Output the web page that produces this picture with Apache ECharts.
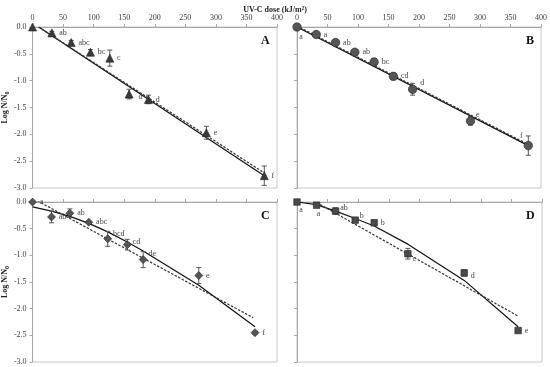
<!DOCTYPE html>
<html><head><meta charset="utf-8">
<script src="https://cdn.jsdelivr.net/npm/echarts@6/dist/echarts.min.js"></script>
<style>html,body{margin:0;padding:0;background:#fff}#c{width:550px;height:367px}</style>
</head><body><div id="c"></div>
<script>
// ---------- data ----------
const xTickValues = [0, 50, 100, 150, 200, 250, 300, 350, 400];
const yTickValues = [0, -0.5, -1, -1.5, -2, -2.5, -3];

const doseA = [0, 31.6, 63.2, 94.8, 126.4, 158, 189.6, 284.4, 379.2];
const logA  = [0, -0.11, -0.29, -0.47, -0.58, -1.25, -1.35, -1.97, -2.77];
const errA  = [0, 0.03, 0.04, 0.05, 0.15, 0.09, 0.08, 0.12, 0.18];
const letA  = ['', 'ab', 'abc', 'bc', 'c', 'd', 'd', 'e', 'f'];
const solidAx = [10, 379.2], solidAy = [0, -2.77];
const dashAx  = [10, 379.2], dashAy  = [0, -2.72];

const doseB = [0, 31.6, 63.2, 94.8, 126.4, 158, 189.6, 284.4, 379.2];
const logB  = [0, -0.14, -0.29, -0.47, -0.65, -0.92, -1.16, -1.75, -2.21];
const errB  = [0, 0.03, 0.03, 0.03, 0.06, 0.06, 0.11, 0.08, 0.18];
const letB  = ['a', 'a', 'ab', 'ab', 'bc', 'cd', 'd', 'e', 'f'];
const solidBx = [0, 379.2], solidBy = [0, -2.21];
const dashBx  = [5, 379.2], dashBy  = [-0.01, -2.19];

const doseC = [0, 31, 61, 92, 123, 155, 181, 272, 364];
const logC  = [0, -0.28, -0.21, -0.38, -0.69, -0.80, -1.08, -1.38, -2.45];
const errC  = [0, 0.11, 0.08, 0.02, 0.14, 0.10, 0.15, 0.15, 0.02];
const letC  = ['a', 'ab', 'ab', 'abc', 'bcd', 'cd', 'de', 'e', 'f'];
const solidCx = [0, 31, 61, 92, 123, 155, 181, 272, 364];
const solidCy = [-0.09, -0.17, -0.27, -0.40, -0.56, -0.75, -0.92, -1.56, -2.34];
const dashCx  = [8, 361], dashCy = [0.02, -2.17];

const doseD = [0, 32, 63, 95, 126, 181, 273, 361];
const logD  = [0, -0.06, -0.17, -0.34, -0.39, -0.97, -1.33, -2.41];
const errD  = [0, 0.02, 0.06, 0.03, 0.05, 0.10, 0.06, 0.03];
const letD  = ['a', 'a', 'ab', 'b', 'b', 'c', 'd', 'e'];
const solidDx = [0, 32, 63, 95, 126, 181, 273, 361];
const solidDy = [0, -0.05, -0.17, -0.31, -0.45, -0.79, -1.47, -2.34];
const dashDx  = [32, 361], dashDy = [-0.01, -2.14];

const panelNames = ['A', 'B', 'C', 'D'];
// ---------- build ----------
const FONT = '"Liberation Serif", "DejaVu Serif", serif';
const zip = (a, b) => a.map((v, i) => [v, b[i]]);

const panels = [
  {dose: doseA, log: logA, err: errA, let: letA, sx: solidAx, sy: solidAy, dx: dashAx, dy: dashAy,
   symbol: 'triangle', size: 8, color: '#3a3a3a', rect: {left: 32, top: 27, width: 245, height: 161}, xl: true, yl: true,
   lpos: {5: ['right', [2, 3]]}},
  {dose: doseB, log: logB, err: errB, let: letB, sx: solidBx, sy: solidBy, dx: dashBx, dy: dashBy,
   symbol: 'circle', size: 8.5, color: '#555', rect: {left: 297, top: 27, width: 245, height: 161}, xl: true, yl: false,
   lpos: {0: ['bottom', [4, -2]], 6: ['right', [0, -6]], 7: ['right', [-2, -6]], 8: ['left', [2, -10]]}},
  {dose: doseC, log: logC, err: errC, let: letC, sx: solidCx, sy: solidCy, dx: dashCx, dy: dashCy,
   symbol: 'diamond', size: 8, color: '#555', rect: {left: 32, top: 202, width: 245, height: 160}, xl: false, yl: true,
   lpos: {4: ['right', [-2, -5]], 5: ['right', [-2, -3]], 6: ['right', [-2, -6]]}},
  {dose: doseD, log: logD, err: errD, let: letD, sx: solidDx, sy: solidDy, dx: dashDx, dy: dashDy,
   symbol: 'rect', size: 6.5, color: '#4a4a4a', rect: {left: 297, top: 202, width: 245, height: 160}, xl: false, yl: false,
   lpos: {0: ['bottom', [4, -3]], 1: ['bottom', [2, -2]], 2: ['right', [-2, -3]], 3: ['right', [-2, -4]], 5: ['right', [-2, 5]], 6: ['right', [0, 3]]}}
];

const grid = [], xAxis = [], yAxis = [], series = [], graphic = [];
panels.forEach((p, i) => {
  grid.push(Object.assign({show: true, borderColor: '#c8c8c8', borderWidth: 1, backgroundColor: '#fff'}, p.rect));
  xAxis.push({
    gridIndex: i, type: 'value', position: 'top', min: 0, max: 400, interval: 50,
    axisLine: {show: true, onZero: false, lineStyle: {color: '#a6a6a6'}},
    axisTick: {show: true, inside: false, length: 3, lineStyle: {color: '#a6a6a6'}},
    axisLabel: {show: p.xl, fontFamily: FONT, fontSize: 8, color: '#404040', margin: 5},
    splitLine: {show: false}
  });
  yAxis.push({
    gridIndex: i, type: 'value', min: -3, max: 0, interval: 0.5,
    axisLine: {show: true, onZero: false, lineStyle: {color: '#a6a6a6'}},
    axisTick: {show: true, inside: false, length: 3, lineStyle: {color: '#a6a6a6'}},
    axisLabel: {show: p.yl, fontFamily: FONT, fontSize: 8, color: '#404040', margin: 6,
                formatter: v => v.toFixed(1)},
    splitLine: {show: false},
    name: p.yl ? 'Log N/N{s|0}' : '', nameLocation: 'middle', nameRotate: 90, nameGap: 19,
    nameTextStyle: {fontFamily: FONT, fontSize: 8, fontWeight: 'bold', color: '#222',
                    rich: {s: {fontFamily: FONT, fontSize: 6, fontWeight: 'bold', color: '#222', verticalAlign: 'bottom', padding: [4, 0, 0, 0]}}}
  });
  series.push({
    type: 'line', xAxisIndex: i, yAxisIndex: i, data: zip(p.sx, p.sy), symbol: 'none', smooth: false,
    lineStyle: {color: '#111', width: 1.2}, z: 2, silent: true
  });
  series.push({
    type: 'line', xAxisIndex: i, yAxisIndex: i, data: zip(p.dx, p.dy), symbol: 'none',
    lineStyle: {color: '#333', width: 1.2, type: [2.5, 1.5]}, z: 2, silent: true
  });
  series.push({
    type: 'custom', xAxisIndex: i, yAxisIndex: i, z: 3, silent: true,
    data: p.dose.map((d, k) => [d, p.log[k], p.err[k]]),
    renderItem: (params, api) => {
      const x = api.value(0), y = api.value(1), e = api.value(2);
      if (!e) return null;
      const hi = api.coord([x, y + e]), lo = api.coord([x, y - e]);
      const st = {stroke: '#555', lineWidth: 1};
      return {type: 'group', children: [
        {type: 'line', shape: {x1: hi[0], y1: hi[1], x2: lo[0], y2: lo[1]}, style: st},
        {type: 'line', shape: {x1: hi[0] - 2.5, y1: hi[1], x2: hi[0] + 2.5, y2: hi[1]}, style: st},
        {type: 'line', shape: {x1: lo[0] - 2.5, y1: lo[1], x2: lo[0] + 2.5, y2: lo[1]}, style: st}
      ]};
    }
  });
  series.push({
    type: 'scatter', xAxisIndex: i, yAxisIndex: i, z: 4, silent: true,
    symbol: p.symbol, symbolSize: p.size,
    itemStyle: {color: p.color, borderColor: '#222', borderWidth: 0.6, opacity: 1},
    data: p.dose.map((d, k) => {
      const o = {value: [d, p.log[k]]};
      const lp = p.lpos[k];
      o.label = {show: !!p.let[k], formatter: p.let[k], position: lp ? lp[0] : 'right',
                 offset: lp ? lp[1] : [0, 0], distance: 3};
      return o;
    }),
    label: {fontFamily: FONT, fontSize: 8, color: '#444'}
  });
  graphic.push({
    type: 'text', left: p.rect.left + p.rect.width - 16, top: p.rect.top + 8,
    style: {text: panelNames[i], font: 'bold 12px ' + FONT, fill: '#111'}
  });
});

const chart = echarts.init(document.getElementById('c'), null, {renderer: 'canvas'});
chart.setOption({
  animation: false,
  backgroundColor: '#fff',
  title: {text: 'UV-C dose (kJ/m²)', left: 'center', top: 1,
          textStyle: {fontFamily: FONT, fontSize: 8, fontWeight: 'bold', color: '#222'}},
  grid, xAxis, yAxis, series, graphic
});
</script></body></html>
